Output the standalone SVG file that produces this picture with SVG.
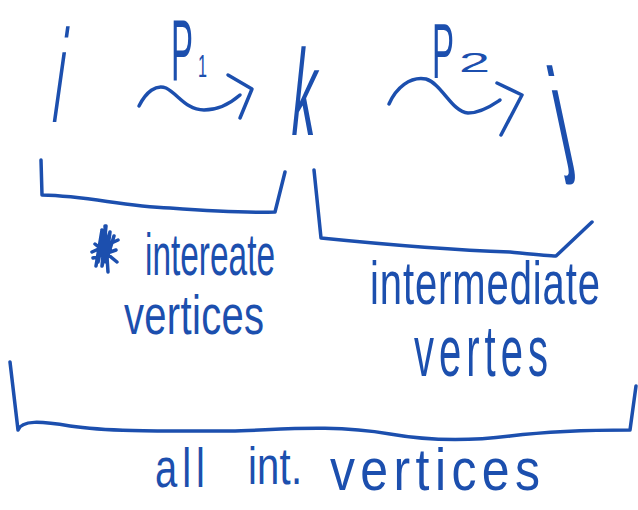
<svg xmlns="http://www.w3.org/2000/svg" width="638" height="510" viewBox="0 0 638 510">
  <style>
    .ink { fill: none; stroke: #1c4fae; stroke-width: 3.5; stroke-linecap: round; stroke-linejoin: round; }
    .hand { font-family: "Liberation Sans", "DejaVu Sans", sans-serif; font-size: 40px; fill: #1c4fae; }
  </style>
  <rect width="638" height="510" fill="#ffffff"/>

  <!-- vertex labels and path labels (small glyphs stretched tall to keep a pen-thin stroke) -->
  <g id="vertex-i">
    <text class="hand" transform="translate(50,122) skewX(-8) scale(1,3.3)" textLength="9" lengthAdjust="spacingAndGlyphs">i</text>
  </g>
  <g id="path-p1">
    <text class="hand" style="font-size:30px" transform="translate(171,80) scale(1,2.9)" textLength="22" lengthAdjust="spacingAndGlyphs">P</text>
    <text class="hand" style="font-size:24px" transform="translate(198,77) scale(1,1.3)" textLength="9" lengthAdjust="spacingAndGlyphs">1</text>
    <path class="ink" d="M139,106 C146,92 156,84 166,88 C178,94 186,110 204,110 C220,110 232,102 240,95"/>
    <path class="ink" d="M228,75 L252,89 L240,118"/>
  </g>
  <g id="vertex-k">
    <text class="hand" style="font-size:34px" transform="translate(289,135) skewX(-6) scale(1,3.6)" textLength="24" lengthAdjust="spacingAndGlyphs">k</text>
  </g>
  <g id="path-p2">
    <text class="hand" transform="translate(432,78) scale(1,1.95)" textLength="22" lengthAdjust="spacingAndGlyphs">P</text>
    <text class="hand" style="font-size:28px" transform="translate(459,72)" textLength="31" lengthAdjust="spacingAndGlyphs">2</text>
    <path class="ink" d="M389,104 C396,88 410,76 426,79 C442,84 452,112 468,113 C482,113 494,104 500,100"/>
    <path class="ink" d="M497,83 L522,95 L501,135"/>
  </g>
  <g id="vertex-j">
    <text class="hand" transform="translate(562,158) skewX(12) scale(1,3.2)" textLength="14" lengthAdjust="spacingAndGlyphs">j</text>
  </g>

  <!-- braces -->
  <g id="braces">
    <path class="ink" d="M41,160 L42,195 C90,196 120,206 170,208 C210,211 245,213 275,212 L285,172"/>
    <path class="ink" d="M314,170 L321,238 C380,244 450,250 510,252 C530,254 548,256 556,256 L592,222"/>
    <path class="ink" d="M10,362 L18,430 C22,420 40,421 70,426 C110,432 170,431 230,431 C280,430 330,424 390,434 C430,441 470,441 510,436 C560,430 600,430 630,430 L636,386"/>
  </g>

  <!-- annotations -->
  <g id="label-left">
    <path class="ink" stroke-width="2.5" d="M96,266 L102,230 L98,262 L106,226 L102,266 L110,232 L106,262 L114,236 M92,252 L118,240 M93,258 L116,250 M95,244 L117,262 M105,226 L108,272"/>
    <text class="hand" transform="translate(145,275) scale(1,1.5)" textLength="130" lengthAdjust="spacingAndGlyphs">intereate</text>
    <text class="hand" transform="translate(124,334) scale(1,1.4)" textLength="140">vertices</text>
  </g>
  <g id="label-right">
    <text class="hand" transform="translate(370,304) scale(1,1.55)" textLength="230">intermediate</text>
    <text class="hand" transform="translate(414,376) scale(1,1.8)" textLength="134">vertes</text>
  </g>
  <g id="label-all">
    <text class="hand" transform="translate(155,487) scale(1,1.37)" textLength="50">all</text>
    <text class="hand" transform="translate(248,484) scale(1,1.3)" textLength="54">int.</text>
    <text class="hand" style="font-size:50px" transform="translate(330,490) scale(1,1.2)" textLength="210">vertices</text>
  </g>
</svg>
